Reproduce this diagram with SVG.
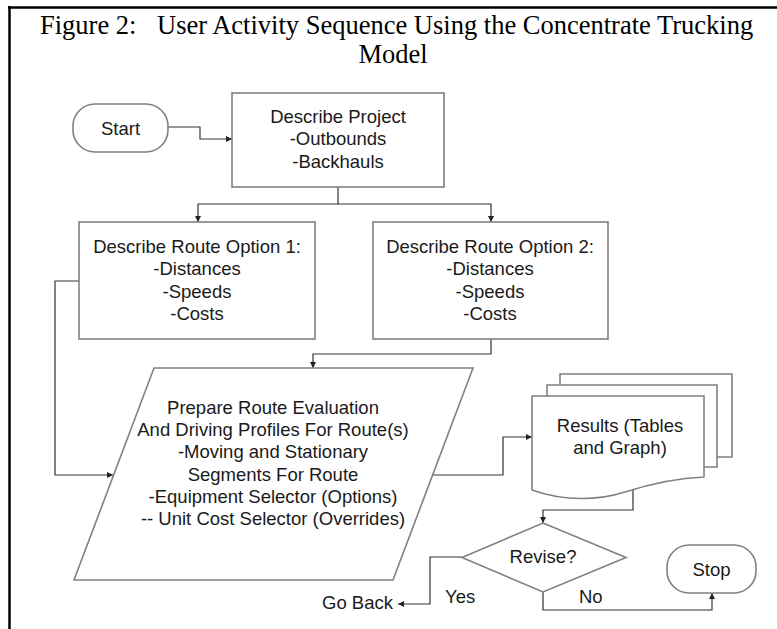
<svg xmlns="http://www.w3.org/2000/svg" width="777" height="629" viewBox="0 0 777 629">
<defs>
<marker id="arr" viewBox="0 0 10 10" refX="10" refY="5" markerWidth="7" markerHeight="6" markerUnits="userSpaceOnUse" orient="auto">
<path d="M0,0 L10,5 L0,10 z" fill="#222"/>
</marker>
</defs>
<style>
.shape{fill:#fff;stroke:#808080;stroke-width:1.6}
.conn{fill:none;stroke:#333;stroke-width:1.2;marker-end:url(#arr)}
.plain{fill:none;stroke:#333;stroke-width:1.2}
.t{font-family:"Liberation Sans",Arial,sans-serif;font-size:18.5px;fill:#1a1a1a;text-anchor:middle}
.tl{font-family:"Liberation Sans",Arial,sans-serif;font-size:18.5px;fill:#1a1a1a}
.title{font-family:"Liberation Serif","Times New Roman",serif;font-size:26.5px;fill:#000}
</style>
<rect width="777" height="629" fill="#fff"/>
<g id="frame">
<line x1="8" y1="7.5" x2="777" y2="7.5" stroke="#000" stroke-width="2.5"/>
<line x1="9.5" y1="6" x2="9.5" y2="629" stroke="#000" stroke-width="2.5"/>
</g>
<g id="title">
<text class="title" x="40" y="34">Figure 2:</text>
<text class="title" x="157" y="34">User Activity Sequence Using the Concentrate Trucking</text>
<text class="title" x="393" y="63" text-anchor="middle">Model</text>
</g>
<g id="connectors">
<path class="conn" d="M168,127 H200 V139 H232"/>
<path class="conn" d="M338,187 V204 H198 V222"/>
<path class="conn" d="M338,204 H491 V222"/>
<path class="conn" d="M79,281 H55 V475 H113"/>
<path class="conn" d="M491,339 V354 H313 V368"/>
<path class="conn" d="M433,475 H503 V437 H532"/>
<path class="conn" d="M633,489 V510 H543 V523"/>
<path class="conn" d="M462,557 H430 V604 H398"/>
<path class="conn" d="M543,592 V610 H712 V593"/>
</g>
<g id="start">
<rect class="shape" x="73" y="104" width="95" height="48" rx="22" ry="22"/>
<text class="t" x="120.5" y="134.5">Start</text>
</g>
<g id="describe-project">
<rect class="shape" x="232" y="93" width="212" height="94"/>
<text class="t" x="338" y="123">Describe Project</text>
<text class="t" x="338" y="145">-Outbounds</text>
<text class="t" x="338" y="168">-Backhauls</text>
</g>
<g id="route1">
<rect class="shape" x="79" y="222" width="236" height="117"/>
<text class="t" x="197" y="253">Describe Route Option 1:</text>
<text class="t" x="197" y="275">-Distances</text>
<text class="t" x="197" y="298">-Speeds</text>
<text class="t" x="197" y="320">-Costs</text>
</g>
<g id="route2">
<rect class="shape" x="373" y="222" width="235" height="117"/>
<text class="t" x="490" y="253">Describe Route Option 2:</text>
<text class="t" x="490" y="275">-Distances</text>
<text class="t" x="490" y="298">-Speeds</text>
<text class="t" x="490" y="320">-Costs</text>
</g>
<g id="prepare">
<path class="shape" d="M154,368 H473 L393,580 H74 Z"/>
<text class="t" x="273" y="414">Prepare Route Evaluation</text>
<text class="t" x="273" y="436">And Driving Profiles For Route(s)</text>
<text class="t" x="273" y="458">-Moving and Stationary</text>
<text class="t" x="273" y="481">Segments For Route</text>
<text class="t" x="273" y="503">-Equipment Selector (Options)</text>
<text class="t" x="273" y="525">-- Unit Cost Selector (Overrides)</text>
</g>
<g id="results">
<path class="shape" d="M560,385 V374 H732 V457 H717"/>
<path class="shape" d="M547,396 V385 H717 V467 H704"/>
<path class="shape" d="M532,396 H704 V477 C680,478 650,484 625,492 C600,500 565,502 532,490 Z"/>
<text class="t" x="620" y="432">Results (Tables</text>
<text class="t" x="620" y="454">and Graph)</text>
</g>
<g id="revise">
<path class="shape" d="M543,523 L626,557.5 L543,592 L462,557.5 Z"/>
<text class="t" x="543" y="563">Revise?</text>
</g>
<g id="stop">
<rect class="shape" x="667" y="545" width="89" height="48" rx="22" ry="22"/>
<text class="t" x="711.5" y="575.5">Stop</text>
</g>
<g id="labels">
<text class="tl" x="445" y="603">Yes</text>
<text class="tl" x="579" y="603">No</text>
<text class="tl" x="393" y="609" text-anchor="end">Go Back</text>
</g>
</svg>
